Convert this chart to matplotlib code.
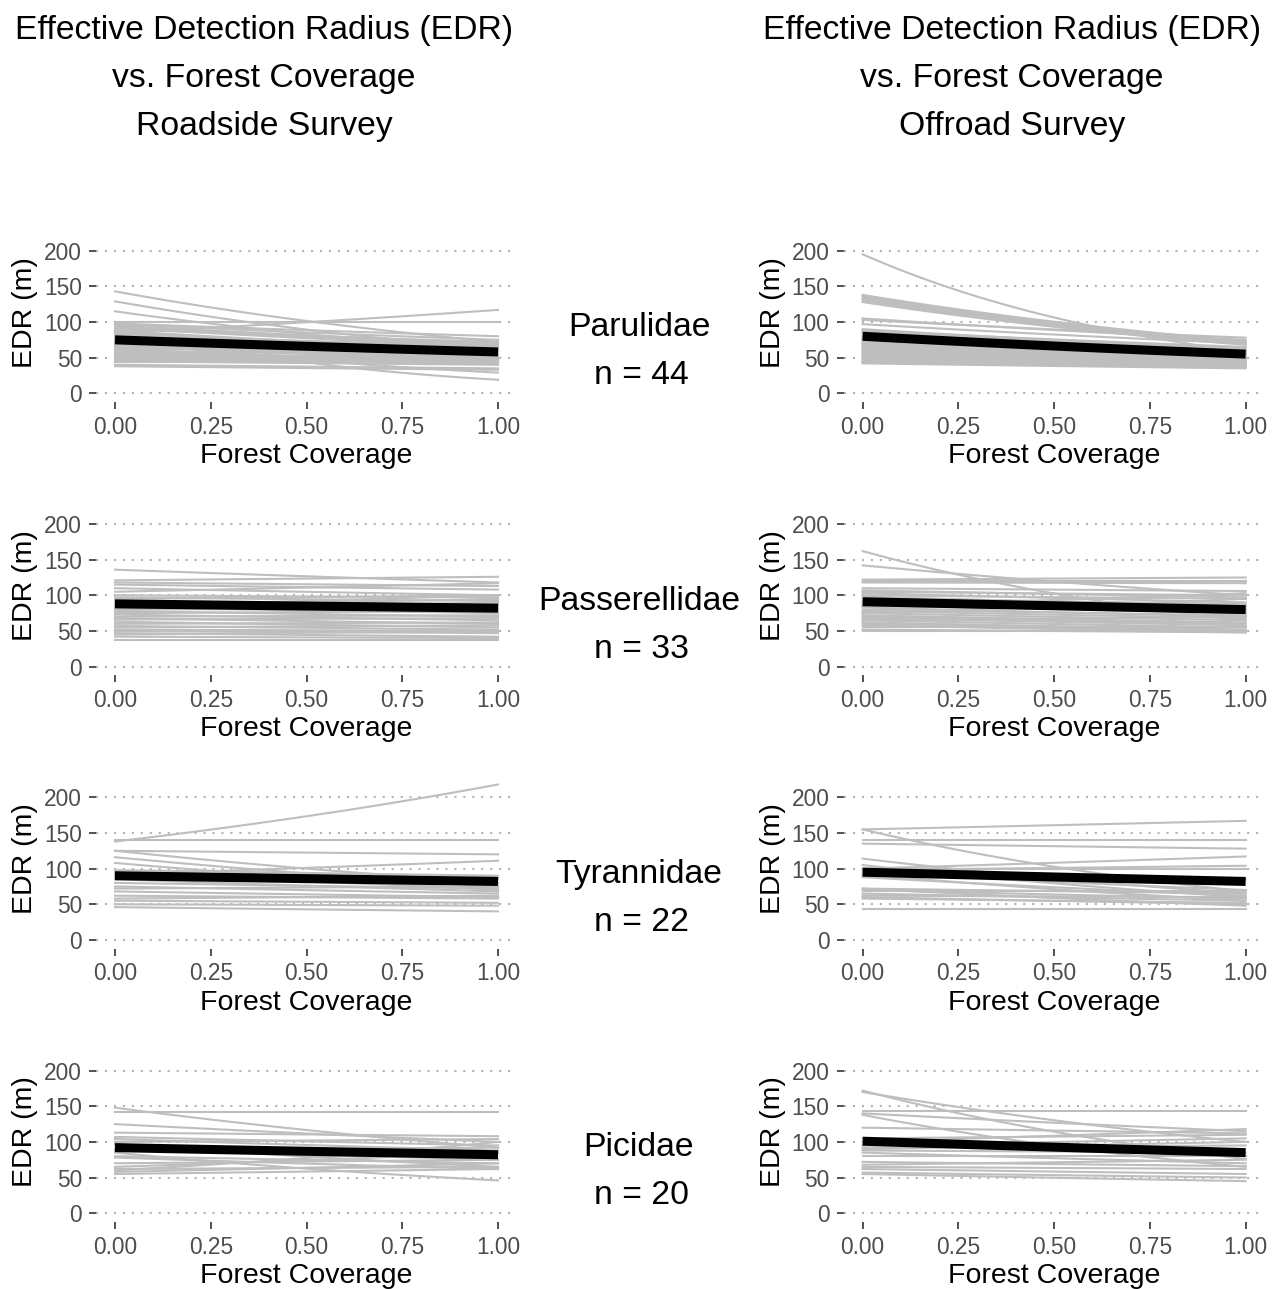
import numpy as np
import matplotlib
matplotlib.use("Agg")
import matplotlib.pyplot as plt

plt.rcParams['font.family'] = ['Liberation Sans', 'DejaVu Sans']

# EDR (m) of each species at forest coverage 0 and 1
road_parulidae_start = [143, 129, 115, 100, 75, 85, 100, 98, 97, 95, 93, 92, 90, 88, 87, 85, 83, 82, 80, 78, 77, 75,
                        73, 72, 70, 68, 67, 65, 63, 62, 60, 58, 57, 55, 53, 52, 50, 49, 47, 45, 44, 40, 38, 60]
road_parulidae_end = [72, 62, 60, 19, 29, 117, 100, 80, 75, 70, 68, 65, 72, 60, 55, 62, 58, 66, 50, 55, 60, 64,
                      52, 48, 58, 45, 55, 50, 60, 42, 52, 47, 44, 50, 48, 45, 42, 46, 42, 40, 44, 35, 33, 70]
off_parulidae_start = [195, 138, 136, 134, 132, 130, 128, 105, 103, 97, 90, 88, 87, 85, 84, 82, 80, 78, 77, 75, 73, 72,
                       70, 68, 67, 65, 63, 62, 60, 58, 57, 55, 54, 52, 50, 49, 48, 47, 46, 45, 44, 43, 42, 70]
off_parulidae_end = [58, 73, 72, 70, 71, 69, 68, 75, 78, 70, 62, 65, 60, 63, 58, 60, 57, 59, 55, 56, 54, 52,
                     55, 50, 53, 48, 51, 47, 49, 45, 48, 44, 46, 42, 45, 41, 43, 40, 42, 38, 40, 37, 35, 60]

road_passerellidae_start = [136, 121, 118, 115, 110, 105, 100, 97, 95, 92, 90, 88, 85, 83, 80, 78, 75,
                            73, 70, 68, 66, 63, 60, 57, 55, 52, 50, 47, 45, 42, 38, 85, 80]
road_passerellidae_end = [118, 126, 113, 108, 100, 117, 97, 92, 100, 85, 88, 80, 95, 75, 82, 70, 78,
                          65, 72, 60, 68, 55, 62, 52, 58, 50, 47, 42, 50, 40, 38, 100, 90]
off_passerellidae_start = [162, 142, 122, 120, 118, 110, 107, 105, 103, 100, 98, 95, 92, 90, 88, 85, 83,
                           80, 78, 75, 72, 70, 68, 65, 62, 60, 58, 55, 52, 50, 85, 75, 65]
off_passerellidae_end = [65, 100, 125, 120, 117, 106, 97, 100, 90, 95, 85, 88, 80, 82, 75, 78, 70,
                         72, 68, 65, 62, 60, 58, 55, 52, 50, 48, 55, 48, 50, 103, 95, 70]

road_tyrannidae_start = [138, 140, 125, 125, 116, 108, 92, 98, 95, 93, 90, 88, 85, 80, 75, 72, 68, 62, 58, 55, 50, 46]
road_tyrannidae_end = [218, 140, 120, 80, 75, 70, 111, 90, 85, 72, 88, 80, 68, 72, 65, 75, 60, 58, 62, 52, 48, 40]
off_tyrannidae_start = [155, 155, 140, 135, 114, 100, 98, 100, 105, 95, 92, 90, 88, 72, 70, 68, 65, 62, 60, 58, 72, 43]
off_tyrannidae_end = [167, 68, 140, 128, 65, 117, 104, 100, 60, 70, 55, 85, 62, 65, 58, 68, 55, 60, 50, 52, 48, 43]

road_picidae_start = [148, 142, 125, 113, 107, 104, 100, 97, 90, 85, 80, 78, 65, 62, 60, 58, 55, 88, 95, 70]
road_picidae_end = [92, 142, 100, 108, 95, 88, 104, 65, 75, 46, 70, 62, 85, 65, 100, 70, 62, 92, 85, 75]
off_picidae_start = [172, 170, 143, 140, 138, 120, 100, 95, 90, 88, 85, 72, 68, 65, 62, 57, 55, 92, 80, 105]
off_picidae_end = [76, 100, 143, 115, 65, 112, 118, 105, 100, 85, 70, 66, 75, 62, 55, 50, 45, 95, 80, 110]

# family-level mean curve (start, end)
families = ["Parulidae", "Passerellidae", "Tyrannidae", "Picidae"]
n_species = [44, 33, 22, 20]
road_mean_start = [75, 88, 90, 92]
road_mean_end = [58, 82, 82, 82]
off_mean_start = [80, 91, 95, 101]
off_mean_end = [55, 80, 82, 85]

road_species = [(road_parulidae_start, road_parulidae_end), (road_passerellidae_start, road_passerellidae_end),
                (road_tyrannidae_start, road_tyrannidae_end), (road_picidae_start, road_picidae_end)]
off_species = [(off_parulidae_start, off_parulidae_end), (off_passerellidae_start, off_passerellidae_end),
               (off_tyrannidae_start, off_tyrannidae_end), (off_picidae_start, off_picidae_end)]

x_ticks = [0.0, 0.25, 0.5, 0.75, 1.0]
y_ticks = [0, 50, 100, 150, 200]

W, H = 1272, 1289
fig = plt.figure(figsize=(W / 100, H / 100), dpi=100)

forest = np.linspace(0, 1, 101)


def edr_curve(start, end):
    # log-linear model: log(EDR) linear in forest coverage
    return start * (end / start) ** forest


def draw_panel(ax, starts, ends, mean_start, mean_end):
    for y in y_ticks:
        ax.axhline(y, color="#b3b3b3", lw=1.5, linestyle=(0, (1, 3.3)), zorder=1)
    for s, e in zip(starts, ends):
        ax.plot(forest, edr_curve(s, e), color="#bebebe", lw=1.5, zorder=2, clip_on=False)
    ax.plot(forest, edr_curve(mean_start, mean_end), color="black", lw=6.5, zorder=3,
            solid_capstyle="butt")
    ax.set_xlim(-0.05, 1.05)
    ax.set_ylim(-12.2, 240)
    ax.set_xticks(x_ticks)
    ax.set_xticklabels([f"{t:.2f}" for t in x_ticks])
    ax.set_yticks(y_ticks)
    for sp in ax.spines.values():
        sp.set_visible(False)
    ax.tick_params(axis="both", length=5, width=1.2, color="#333333",
                   labelcolor="#4d4d4d", labelsize=16.4, pad=5)
    ax.set_xlabel("Forest Coverage", fontsize=20.5, va="center")
    ax.xaxis.set_label_coords(0.5, -0.30)
    ax.set_ylabel("EDR (m)", fontsize=20.5, va="center")
    ax.yaxis.set_label_coords(-0.168, 0.5)


panel_w = 421.3
panel_h = 179.8
lefts = [95.85, 843.5]
for r in range(4):
    bottom_px = 402 + r * 273.3
    for c, species in enumerate([road_species, off_species]):
        ax = fig.add_axes([lefts[c] / W, 1 - bottom_px / H, panel_w / W, panel_h / H])
        starts, ends = species[r]
        if c == 0:
            draw_panel(ax, starts, ends, road_mean_start[r], road_mean_end[r])
        else:
            draw_panel(ax, starts, ends, off_mean_start[r], off_mean_end[r])
    label_y = 328 + r * 273.3
    fig.text(639 / W, 1 - label_y / H, families[r], ha="center", va="center", fontsize=24.3)
    fig.text(641 / W, 1 - (label_y + 48) / H, f"n = {n_species[r]}", ha="center", va="center", fontsize=24.3)

title_lines = ["Effective Detection Radius (EDR)", "vs. Forest Coverage"]
for cx, survey in [(264, "Roadside Survey"), (1012, "Offroad Survey")]:
    for i, line in enumerate(title_lines + [survey]):
        fig.text(cx / W, 1 - (31 + 48 * i) / H, line, ha="center", va="center", fontsize=24.3)

fig.savefig("out.png", dpi=100, facecolor="white")
